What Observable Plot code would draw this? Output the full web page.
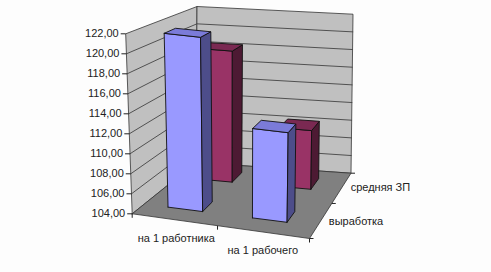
<!DOCTYPE html>
<html>
<head>
<meta charset="utf-8">
<script src="https://cdn.jsdelivr.net/npm/d3@7"></script>
<script src="https://cdn.jsdelivr.net/npm/@observablehq/plot@0.6"></script>
<style>
  html, body { margin: 0; padding: 0; background: #fdfdfd; }
  #chart { width: 491px; height: 272px; }
</style>
</head>
<body>
<div id="chart"></div>
<script>
// ---- data ----
const categories = ["на 1 работника", "на 1 рабочего"];
const series = ["выработка", "средняя ЗП"];
const vyrabotka = [121.8, 113.1];
const srednyaZP = [118.4, 110.4];
const yTicks = [104, 106, 108, 110, 112, 114, 116, 118, 120, 122];
const yTickLabels = ["104,00", "106,00", "108,00", "110,00", "112,00", "114,00", "116,00", "118,00", "120,00", "122,00"];

// ---- 3D projection (oblique view of the Excel-style 3D column chart) ----
const W = 491, H = 272;
const floorCorners = { f00: [131.7, 213.3], f10: [309, 238], f01: [195.5, 162], f11: [350.5, 172.7] };
const vertVectors = { v00: [-6.5, -180], v10: [4, -182], v01: [1, -156], v11: [2, -159] };
const valueScale = d3.scaleLinear().domain([yTicks[0], yTicks[yTicks.length - 1]]).range([0, 1]);
const xBand = d3.scaleBand().domain(categories).range([0, 1]).paddingInner(0.59).paddingOuter(0.32).align(0.44);
const zBand = d3.scaleBand().domain(series).range([0, 1]).paddingInner(0.676).paddingOuter(0.29).align(0.62);

function bil(a, b, c, d, X, Z) {
  return [0, 1].map(k => (1 - Z) * ((1 - X) * a[k] + X * b[k]) + Z * ((1 - X) * c[k] + X * d[k]));
}
function proj(X, Z, v) {
  const f = bil(floorCorners.f00, floorCorners.f10, floorCorners.f01, floorCorners.f11, X, Z);
  const u = bil(vertVectors.v00, vertVectors.v10, vertVectors.v01, vertVectors.v11, X, Z);
  const t = valueScale(v);
  return { px: f[0] + t * u[0], py: f[1] + t * u[1] };
}

const vMin = yTicks[0], vMax = yTicks[yTicks.length - 1];
const polys = [];
function addPoly(id, fill, pts) {
  const closed = pts.concat([pts[0]]);
  closed.forEach(p => { const q = proj(p[0], p[1], p[2]); polys.push({ id, fill, px: q.px, py: q.py }); });
}
// walls and floor
addPoly("leftWall", "#c0c0c0", [[0, 0, vMin], [0, 1, vMin], [0, 1, vMax], [0, 0, vMax]]);
addPoly("backWall", "#c0c0c0", [[0, 1, vMin], [1, 1, vMin], [1, 1, vMax], [0, 1, vMax]]);

// gridlines
const grid = [];
yTicks.slice(1, -1).forEach(v => {
  [[0, 0, v], [0, 1, v], [1, 1, v]].forEach(p => { const q = proj(...p); grid.push({ id: "g" + v, px: q.px, py: q.py }); });
});

const floorPolys = [];
[[0, 0, vMin], [1, 0, vMin], [1, 1, vMin], [0, 1, vMin], [0, 0, vMin]].forEach(p => {
  const q = proj(...p); floorPolys.push({ id: "floor", fill: "#808080", px: q.px, py: q.py });
});

// bars: back row first, then front row
const palette = {
  "выработка": { front: "#9999ff", top: "#7b7bd9", side: "#4d4d8a" },
  "средняя ЗП": { front: "#993366", top: "#7a2952", side: "#4d1a33" }
};
const seriesValues = { "выработка": vyrabotka, "средняя ЗП": srednyaZP };
const barPolys = [];
function addBar(id, X0, X1, Z0, Z1, v, col) {
  const faces = [
    [col.front, [[X0, Z0, vMin], [X1, Z0, vMin], [X1, Z0, v], [X0, Z0, v]]],
    [col.side, [[X1, Z0, vMin], [X1, Z1, vMin], [X1, Z1, v], [X1, Z0, v]]],
    [col.top, [[X0, Z0, v], [X1, Z0, v], [X1, Z1, v], [X0, Z1, v]]]
  ];
  faces.forEach(([fill, pts], k) => {
    pts.concat([pts[0]]).forEach(p => { const q = proj(...p); barPolys.push({ id: id + "_" + k, fill, px: q.px, py: q.py }); });
  });
}
series.slice().reverse().forEach(s => {
  categories.forEach((c, i) => {
    const X0 = xBand(c), X1 = X0 + xBand.bandwidth();
    const Z0 = zBand(s), Z1 = Z0 + zBand.bandwidth();
    addBar(s + i, X0, X1, Z0, Z1, seriesValues[s][i], palette[s]);
  });
});

// axes
const yAxis = yTicks.map((v, i) => { const q = proj(0, 0, v); return { px: q.px, py: q.py, label: yTickLabels[i] }; });
const xLabels = categories.map(c => { const q = proj(xBand(c) + xBand.bandwidth() / 2, 0, vMin); return { px: q.px, py: q.py, label: c }; });
const zLabels = series.map(s => { const q = proj(1, zBand(s) + zBand.bandwidth() / 2, vMin); return { px: q.px, py: q.py, label: s }; });
const xTicks = [0, (xBand(categories[0]) + xBand.bandwidth() + xBand(categories[1])) / 2, 1].map(X => { const q = proj(X, 0, vMin); return { px: q.px, py: q.py }; });
const zTicks = [0, (zBand(series[0]) + zBand.bandwidth() + zBand(series[1])) / 2, 1].map(Z => { const q = proj(1, Z, vMin); return { px: q.px, py: q.py }; });

const font = "Liberation Sans, Arial, sans-serif";
const chart = Plot.plot({
  width: W, height: H,
  margin: 0,
  style: { background: "#fdfdfd", fontFamily: font },
  x: { type: "linear", domain: [0, W], range: [0, W], axis: null },
  y: { type: "linear", domain: [0, H], range: [0, H], axis: null },
  color: { type: "identity" },
  marks: [
    Plot.line(polys, { x: "px", y: "py", z: "id", fill: "fill", stroke: "#333", strokeWidth: 0.8, curve: "linear" }),
    Plot.line(grid, { x: "px", y: "py", z: "id", stroke: "#444", strokeWidth: 0.9 }),
    Plot.line(floorPolys, { x: "px", y: "py", z: "id", fill: "fill", stroke: "#333", strokeWidth: 0.8 }),
    Plot.line(barPolys, { x: "px", y: "py", z: "id", fill: "fill", stroke: "#111", strokeWidth: 0.9, strokeLinejoin: "round" }),
    Plot.link(yAxis, { x1: "px", y1: "py", x2: d => d.px - 5, y2: "py", stroke: "#222", strokeWidth: 1 }),
    Plot.text(yAxis, { x: "px", y: "py", text: "label", dx: -7, textAnchor: "end", fontSize: 11, fill: "#222", fontFamily: font }),
    Plot.link(xTicks, { x1: "px", y1: "py", x2: "px", y2: d => d.py + 4, stroke: "#222", strokeWidth: 1 }),
    Plot.link(zTicks, { x1: "px", y1: "py", x2: d => d.px + 4, y2: "py", stroke: "#222", strokeWidth: 1 }),
    Plot.text(xLabels, { x: "px", y: "py", text: "label", dx: 2, dy: 19, textAnchor: "middle", fontSize: 11, fill: "#222", fontFamily: font }),
    Plot.text(zLabels, { x: "px", y: "py", text: "label", dx: 8, dy: 1, textAnchor: "start", fontSize: 11, fill: "#222", fontFamily: font })
  ]
});
document.getElementById("chart").appendChild(chart);
</script>
</body>
</html>
